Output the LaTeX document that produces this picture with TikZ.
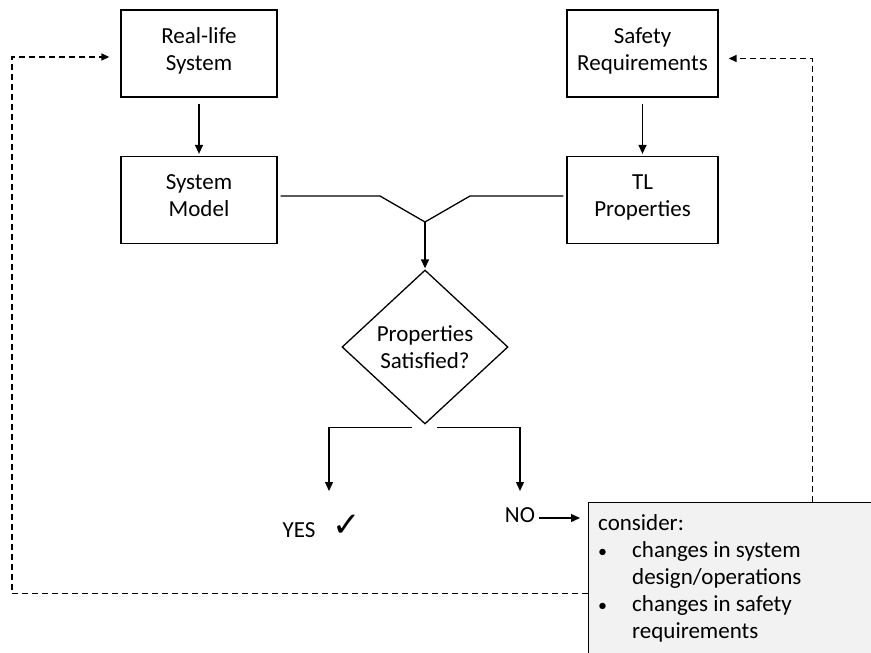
\documentclass[tikz,border=0pt]{standalone}
\usepackage{fontspec}
\setmainfont{Carlito}
\newfontfamily\symfont{DejaVu Sans}
\usetikzlibrary{arrows.meta,shapes.geometric}
\definecolor{notefill}{HTML}{F2F2F2}
\begin{document}
\begin{tikzpicture}[x=1pt,y=-1pt,
  every node/.style={font=\fontsize{23}{27}\selectfont},
  block/.style={draw,line width=1.3pt,minimum height=87pt,align=center,inner sep=0pt,text height=43.5pt,text depth=10.5pt},
  decision/.style={draw,diamond,line width=1.3pt,minimum width=166pt,minimum height=154pt,align=center,inner sep=0pt},
  flow/.style={line width=1.3pt,-{Triangle[length=9pt,width=8pt]}},
  plain/.style={line width=1.3pt},
  feedback/.style={line width=1.4pt,dash pattern=on 6pt off 4pt,-{Triangle[length=8pt,width=7pt]}},
  note/.style={draw,line width=1.3pt,fill=notefill,minimum width=300pt,minimum height=182pt,anchor=north west,inner sep=0pt}]
\useasboundingbox (0,0) rectangle (871,653);
\clip (0,0) rectangle (871,653);

% process blocks
\node[block,minimum width=156pt] (rl) at (199,53.5) {Real-life\\System};
\node[block,minimum width=151pt] (sr) at (642.5,53.5) {Safety\\Requirements};
\node[block,minimum width=156pt] (sm) at (199,200) {System\\Model};
\node[block,minimum width=151pt] (tl) at (642.5,200) {TL\\Properties};
\node[decision] (ps) at (425,347) {Properties\\Satisfied?};

\draw[flow,shorten <=6pt,shorten >=2pt] (rl) -- (sm);
\draw[flow,shorten <=6pt,shorten >=2pt] (sr) -- (tl);

% merge of model and properties
\coordinate (j) at (425,222);
\draw[plain] ([xshift=3pt,yshift=4pt]sm.east) -- (380,196) -- (j) -- (470,196) -- ([xshift=-3pt,yshift=4pt]tl.west);
\draw[flow,shorten >=1pt] (j) -- (ps.north);

% outcomes
\node (yes) at (299,530) {YES};
\node[font=\symfont\fontsize{34}{34}\selectfont,inner sep=0pt] (tick) at (347,526) {✓};
\node (no) at (520,515.5) {NO};
\coordinate (yesin) at (329,491);
\coordinate (noin) at (520,491);
\draw[flow] ([xshift=-13pt,yshift=-3pt]ps.south) -| (yesin);
\draw[flow] ([xshift=12pt,yshift=-3pt]ps.south) -| (noin);

% note box
\node[note] (cons) at (588,502) {};
\node[anchor=base west,inner sep=0pt] (constext) at (598,530) {%
  \begin{tabular}[t]{@{}p{34pt}@{}l@{}}
  \multicolumn{2}{@{}l@{}}{consider:}\\
  {\fontsize{18}{27}\selectfont •} & changes in system\\
    & design/operations\\
  {\fontsize{18}{27}\selectfont •} & changes in safety\\
    & requirements
  \end{tabular}};
\draw[flow,shorten >=8pt] ([yshift=-2.5pt]no.east) -- (cons.north west |- 0,518);

% feedback loops
\draw[feedback,shorten >=11pt] (cons.west) -| (12,57) -- ([yshift=-3.5pt]rl.west);
\draw[feedback,shorten >=10pt] ([xshift=74pt]cons.north) |- ([yshift=-5pt]sr.east);
\end{tikzpicture}
\end{document}
